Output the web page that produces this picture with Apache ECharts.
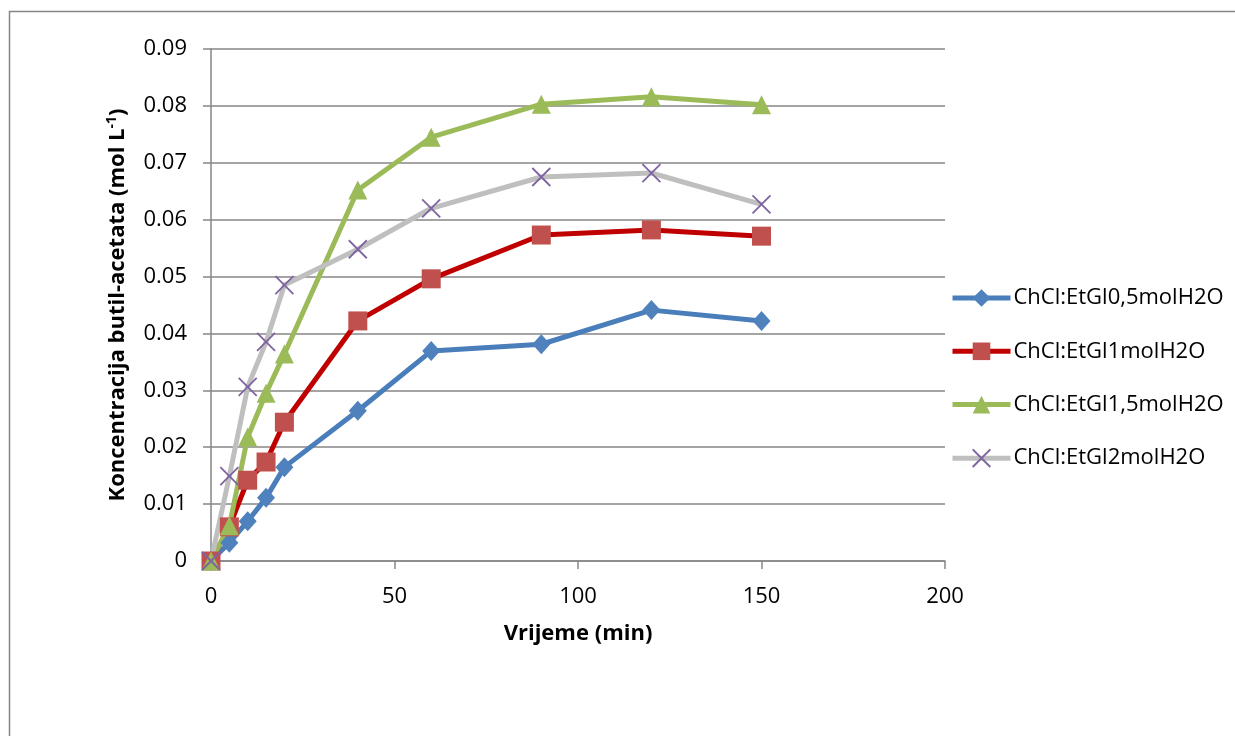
<!DOCTYPE html>
<html><head><meta charset="utf-8">
<script src="https://cdn.jsdelivr.net/npm/echarts@6/dist/echarts.min.js"></script>
<style>html,body{margin:0;padding:0;background:#fff}#c{width:1235px;height:736px}</style>
</head><body><div id="c"></div>
<script>
const times = [0, 5, 10, 15, 20, 40, 60, 90, 120, 150];
const seriesNames = ['ChCl:EtGl0,5molH2O', 'ChCl:EtGl1molH2O', 'ChCl:EtGl1,5molH2O', 'ChCl:EtGl2molH2O'];
const s05 = [0, 0.0032, 0.0070, 0.0111, 0.0165, 0.0264, 0.0369, 0.0381, 0.0441, 0.0422];
const s1  = [0, 0.0060, 0.0142, 0.0174, 0.0244, 0.0422, 0.0496, 0.0573, 0.0582, 0.0571];
const s15 = [0, 0.0062, 0.0218, 0.0295, 0.0364, 0.0652, 0.0745, 0.0803, 0.0816, 0.0802];
const s2  = [0, 0.0149, 0.0306, 0.0385, 0.0485, 0.0548, 0.0620, 0.0675, 0.0682, 0.0627];
const xTitle = 'Vrijeme (min)';

const FONT = 'Open Sans';
const FS = 22;
const pair = arr => times.map((t, i) => [t, arr[i]]);
const chart = echarts.init(document.getElementById('c'));
const X_PATH = 'path://M0,0L10,10M10,0L0,10';
function mk(name, data, lineColor, markColor, symbol, size, extra) {
  return Object.assign({
    name, type: 'line', data: pair(data), symbol, symbolSize: size,
    lineStyle: { color: lineColor, width: 5 },
    itemStyle: { color: markColor },
    emphasis: { disabled: true }, animation: false
  }, extra || {});
}
chart.setOption({
  animation: false,
  grid: { left: 211, right: 290, top: 49, bottom: 175 },
  graphic: [{ type: 'rect', shape: { x: 9.5, y: 11.5, width: 1240, height: 740 },
    style: { fill: 'none', stroke: '#868686', lineWidth: 1.5 }, z: -1 }],
  legend: {
    orient: 'vertical', left: 945, top: 282, itemGap: 31.3, itemWidth: 58, itemHeight: 22,
    lineStyle: { width: 5 },
    textStyle: { fontFamily: FONT, fontSize: FS, color: '#000', padding: [0, 0, 0, -2] },
    data: seriesNames
  },
  xAxis: {
    type: 'value', min: 0, max: 200, interval: 50,
    name: xTitle, nameLocation: 'middle', nameGap: 62,
    nameTextStyle: { fontFamily: FONT, fontSize: FS, fontWeight: 'bold', color: '#000' },
    axisLine: { lineStyle: { color: '#868686', width: 1.5 } },
    axisTick: { show: true, length: 8, lineStyle: { color: '#868686', width: 1.5 } },
    axisLabel: { fontFamily: FONT, fontSize: FS, color: '#000', margin: 25 },
    splitLine: { show: false }
  },
  yAxis: {
    type: 'value', min: 0, max: 0.09, interval: 0.01,
    name: '{t|Koncentracija butil-acetata (mol L}{s|-1}{t|)}', nameLocation: 'middle', nameGap: 80,
    nameTextStyle: { rich: {
      t: { fontFamily: FONT, fontSize: FS, fontWeight: 'bold', color: '#000' },
      s: { fontFamily: FONT, fontSize: 14, fontWeight: 'bold', color: '#000', verticalAlign: 'top', padding: [0, 0, 12, 0] }
    } },
    axisLine: { show: true, lineStyle: { color: '#868686', width: 1.5 } },
    axisTick: { show: true, length: 8, lineStyle: { color: '#868686', width: 1.5 } },
    axisLabel: { fontFamily: FONT, fontSize: FS, color: '#000', margin: 24,
      formatter: v => v === 0 ? '0' : v.toFixed(2) },
    splitLine: { lineStyle: { color: '#868686', width: 1.5 } }
  },
  series: [
    mk(seriesNames[0], s05, '#4A7EBB', '#4F81BD', 'diamond', [18, 20]),
    mk(seriesNames[1], s1, '#C00000', '#C0504D', 'rect', 19),
    mk(seriesNames[2], s15, '#9BBB59', '#9BBB59', 'triangle', 19),
    mk(seriesNames[3], s2, '#BFBFBF', '#7F64A1', X_PATH, 18,
      { itemStyle: { color: 'none', borderColor: '#7F64A1', borderWidth: 1.8 } })
  ]
});
</script></body></html>
